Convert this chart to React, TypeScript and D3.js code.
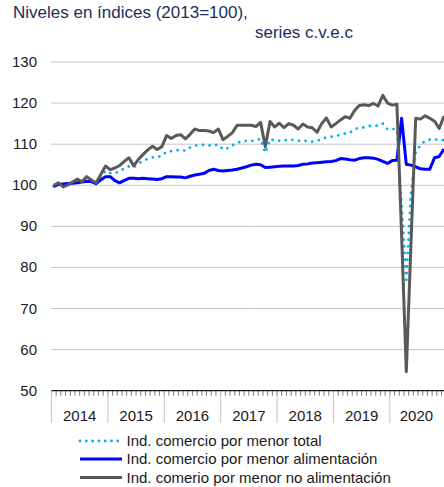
import * as d3 from 'd3';

// monthly, Jan 2014 .. Dec 2020
const years = ['2014', '2015', '2016', '2017', '2018', '2019', '2020'];
const yTicks = [50, 60, 70, 80, 90, 100, 110, 120, 130];

const total = [
  99.7, 100.4, 99.9, 100.2, 100.7, 101.1, 100.9, 101.6, 101.1, 100.5, 102.0, 103.5,
  103.0, 102.9, 103.5, 104.0, 104.6, 104.4, 105.2, 106.0, 106.4, 106.8, 106.9, 107.1,
  108.2, 108.3, 108.5, 108.6, 108.4, 109.2, 109.6, 109.8, 109.8, 109.7, 109.7, 109.9,
  108.7, 109.0, 109.7, 110.3, 110.7, 110.8, 110.8, 110.9, 111.3, 107.9, 111.2, 110.9,
  110.8, 110.9, 111.2, 111.0, 110.8, 110.9, 110.7, 110.6, 110.8, 111.3, 111.6, 111.8,
  112.0, 112.3, 112.6, 112.8, 113.6, 114.0, 114.1, 114.4, 114.5, 114.5, 115.0, 113.6,
  113.7, 113.6, 95.0, 77.0, 98.0, 108.0, 109.8, 110.8, 111.1, 111.2, 111.0, 111.0,
];

const food = [
  99.7, 100.2, 100.3, 100.4, 100.5, 100.6, 100.8, 101.0, 100.9, 100.4, 101.3, 102.1,
  102.1, 101.1, 100.6, 101.2, 101.7, 101.7, 101.6, 101.7, 101.6, 101.5, 101.4, 101.6,
  102.1, 102.1, 102.0, 102.0, 101.8, 102.2, 102.5, 102.7, 102.9, 103.6, 103.9, 103.6,
  103.5, 103.6, 103.7, 103.9, 104.2, 104.5, 104.9, 105.1, 105.0, 104.3, 104.4, 104.5,
  104.6, 104.7, 104.7, 104.7, 104.8, 105.1, 105.2, 105.4, 105.5, 105.6, 105.7, 105.8,
  106.0, 106.5, 106.4, 106.2, 106.1, 106.5, 106.7, 106.7, 106.6, 106.3, 105.8, 105.3,
  106.0, 106.1, 116.3, 105.1, 104.9, 104.5, 104.0, 103.9, 103.9, 106.7, 107.0, 108.8,
];

const nonFood = [
  100.0, 100.6, 99.6, 100.1, 100.8, 101.5, 100.9, 102.1, 101.3, 100.6, 102.6, 104.7,
  103.8, 104.2, 104.8, 105.8, 106.7, 104.7, 106.3, 107.5, 108.6, 109.5, 108.7, 109.4,
  112.1, 111.4, 112.1, 112.3, 111.3, 112.4, 113.7, 113.3, 113.3, 113.2, 112.8, 113.7,
  111.1, 111.9, 112.8, 114.6, 114.6, 114.6, 114.6, 114.3, 115.3, 109.4, 115.5, 114.2,
  115.1, 114.0, 115.0, 114.6, 113.7, 114.9, 114.2, 114.0, 112.9, 115.0, 116.4, 114.2,
  115.0, 115.9, 116.7, 116.3, 118.2, 119.4, 119.6, 119.4, 119.9, 119.3, 121.9, 120.0,
  119.5, 119.7, 88.0, 54.6, 86.0, 116.3, 116.1, 116.9, 116.3, 115.6, 113.8, 116.8,
];

const legendLabels = [
  'Ind. comercio por menor total',
  'Ind. comercio por menor alimentación',
  'Ind. comerio por menor no alimentación',
];

const font = '"Liberation Sans", Arial, sans-serif';

export default function App() {
  const width = 444;
  const height = 487;
  const axisY = 390.7;

  const x = d3.scaleLinear().domain([0, 84]).range([51.45, 446.25]);
  const y = d3.scaleLinear().domain([50, 130]).range([axisY, 62]);

  const line = d3.line<number>()
    .x((d, i) => x(i + 0.5))
    .y(d => y(d));

  const months = d3.range(85);

  return (
    <svg width={width} height={height} viewBox={`0 0 ${width} ${height}`}
      style={{ position: 'absolute', left: 0, top: 0, fontFamily: font }}>
      {/* title */}
      <text x={13} y={18} fontSize={17} fill="#1c2d5c">Niveles en índices (2013=100),</text>
      <text x={255} y={38} fontSize={17} fill="#1c2d5c">series c.v.e.c</text>

      {/* gridlines */}
      {yTicks.filter(t => t > 50).map(t => (
        <line key={t} x1={51.5} x2={width} y1={y(t)} y2={y(t)}
          stroke="#8a8a8a" strokeWidth={1} strokeDasharray="1 1" />
      ))}
      {yTicks.map(t => (
        <text key={'l' + t} x={37} y={y(t) + 5} fontSize={15} textAnchor="end" fill="#1a1a1a">{t}</text>
      ))}

      {/* x axis */}
      {months.map(k => (
        <line key={'m' + k} x1={x(k)} x2={x(k)} y1={axisY} y2={axisY + 5}
          stroke="#7a7a7a" strokeWidth={1} />
      ))}
      {years.map((yr, j) => (
        <line key={'s' + yr} x1={x(j * 12)} x2={x(j * 12)} y1={axisY} y2={423}
          stroke="#c4c4c4" strokeWidth={1} />
      ))}
      <line x1={x(0)} x2={width} y1={axisY} y2={axisY} stroke="#1a1a1a" strokeWidth={1.2} />
      {years.map((yr, j) => (
        <text key={yr} x={(x(j * 12) + Math.min(x(j * 12 + 12), 443)) / 2} y={420.7}
          fontSize={15} textAnchor="middle" fill="#1a1a1a">{yr}</text>
      ))}

      {/* series */}
      <path d={line(total) ?? ''} fill="none" stroke="#00b0f0" strokeWidth={2.8}
        strokeDasharray="0 6.7" strokeLinecap="round" strokeLinejoin="round" />
      <path d={line(food) ?? ''} fill="none" stroke="#0000ff" strokeWidth={3}
        strokeLinejoin="round" />
      <path d={line(nonFood) ?? ''} fill="none" stroke="#595959" strokeWidth={3}
        strokeLinejoin="round" />

      {/* legend */}
      <line x1={80} x2={118} y1={441} y2={441} stroke="#00b0f0" strokeWidth={2.8}
        strokeDasharray="0 6.3" strokeLinecap="round" />
      <line x1={80} x2={122} y1={459} y2={459} stroke="#0000ff" strokeWidth={3} />
      <line x1={80} x2={122} y1={477.5} y2={477.5} stroke="#595959" strokeWidth={3} />
      {legendLabels.map((l, i) => (
        <text key={l} x={126.5} y={446 + i * 18.3} fontSize={15} fill="#1a1a1a">{l}</text>
      ))}
    </svg>
  );
}
